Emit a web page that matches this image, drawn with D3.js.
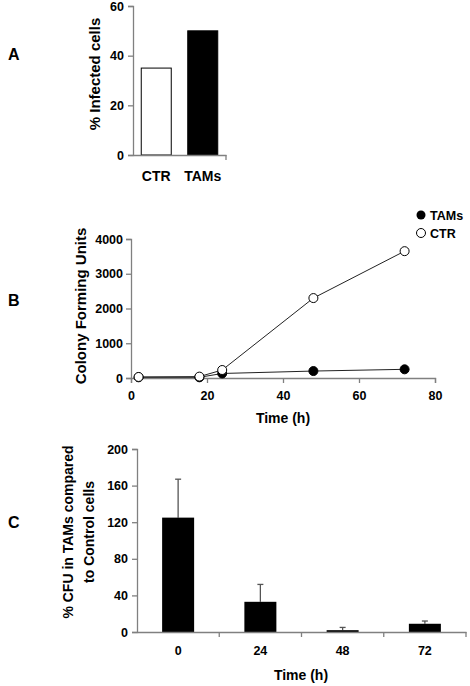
<!DOCTYPE html>
<html><head><meta charset="utf-8">
<script src="https://cdn.jsdelivr.net/npm/d3@7"></script>
<style>
html,body{margin:0;padding:0;background:#fff;}
text{font-family:"Liberation Sans",Arial,sans-serif;font-weight:bold;fill:#000;}
</style></head><body>
<svg id="c" width="470" height="686"></svg>
<script>
// Panel A
const catsA = ["CTR", "TAMs"];
const valsA = [35, 50];
const ticksA = [0, 20, 40, 60];
// Panel B
const timesTAMs = [2, 18, 24, 48, 72];
const cfuTAMs = [20, 20, 130, 200, 250];
const timesCTR = [2, 18, 24, 48, 72];
const cfuCTR = [30, 40, 230, 2300, 3650];
const ticksBx = [0, 20, 40, 60, 80];
const ticksBy = [0, 1000, 2000, 3000, 4000];
// Panel C
const catsC = ["0", "24", "48", "72"];
const valsC = [125, 33, 2, 9];
const errC = [42, 19, 3, 3];
const ticksCy = [0, 40, 80, 120, 160, 200];

const svg = d3.select("#c");
const axisCol = "#808080";
const tickFont = "12.5px";
function styleAxis(g){
  g.select(".domain").attr("stroke", axisCol).attr("stroke-width", 1.3);
  g.selectAll(".tick line").attr("stroke", axisCol).attr("stroke-width", 1.3);
  g.selectAll(".tick text").style("font-size", tickFont).style("font-weight", "bold").attr("fill", "#000")
    .style("font-family", '"Liberation Sans", Arial, sans-serif');
}
function letter(t, x, y){
  svg.append("text").attr("x", x).attr("y", y).style("font-size", "16px").text(t);
}

// ---------- Panel A ----------
{
  const x = d3.scaleBand().domain(catsA).range([133, 226]).padding(0);
  const y = d3.scaleLinear().domain([0, 60]).range([155, 6]);
  const g = svg.append("g");
  const bw = 30;
  g.selectAll("rect").data(catsA).join("rect")
    .attr("x", d => x(d) + x.bandwidth()/2 - bw/2)
    .attr("y", (d,i) => y(valsA[i]))
    .attr("width", bw)
    .attr("height", (d,i) => y(0) - y(valsA[i]))
    .attr("fill", (d,i) => i === 0 ? "#fff" : "#000")
    .attr("stroke", "#000").attr("stroke-width", 1);
  const ya = g.append("g").attr("transform", "translate(133,0)")
    .call(d3.axisLeft(y).tickValues(ticksA).tickSize(5).tickPadding(4));
  styleAxis(ya);
  const xa = g.append("g").attr("transform", "translate(0,155)")
    .call(d3.axisBottom(x).tickSize(0).tickPadding(16));
  styleAxis(xa);
  xa.selectAll(".tick text").style("font-size", "14px");
  g.append("line").attr("x1", 226).attr("x2", 226).attr("y1", 155).attr("y2", 160).attr("stroke", axisCol).attr("stroke-width", 1.3);
  g.append("text").attr("transform", "translate(100,74) rotate(-90)").attr("text-anchor", "middle")
    .style("font-size", "15px").text("% Infected cells");
  letter("A", 8, 60);
}

// ---------- Panel B ----------
{
  const x = d3.scaleLinear().domain([0, 80]).range([131, 435]);
  const y = d3.scaleLinear().domain([0, 4000]).range([378, 239]);
  const g = svg.append("g");
  const ya = g.append("g").attr("transform", "translate(131,0)")
    .call(d3.axisLeft(y).tickValues(ticksBy).tickFormat(d3.format("d")).tickSize(5).tickPadding(3));
  styleAxis(ya);
  const xa = g.append("g").attr("transform", "translate(0,378)")
    .call(d3.axisBottom(x).tickValues(ticksBx).tickSize(5).tickPadding(8));
  styleAxis(xa);
  const line = d3.line().x(d => x(d[0])).y(d => y(d[1]));
  const dT = timesTAMs.map((t,i) => [t, cfuTAMs[i]]);
  const dC = timesCTR.map((t,i) => [t, cfuCTR[i]]);
  g.append("path").datum(dT).attr("d", line).attr("fill", "none").attr("stroke", "#222").attr("stroke-width", 1);
  g.append("path").datum(dC).attr("d", line).attr("fill", "none").attr("stroke", "#222").attr("stroke-width", 1);
  g.selectAll(".pt").data(dT).join("circle").attr("class", "pt")
    .attr("cx", d => x(d[0])).attr("cy", d => y(d[1])).attr("r", 4.5).attr("fill", "#000").attr("stroke", "#000");
  g.selectAll(".pc").data(dC).join("circle").attr("class", "pc")
    .attr("cx", d => x(d[0])).attr("cy", d => y(d[1])).attr("r", 4.5).attr("fill", "#fff").attr("stroke", "#000").attr("stroke-width", 1);
  // legend
  g.append("circle").attr("cx", 421).attr("cy", 215).attr("r", 4.5).attr("fill", "#000");
  g.append("text").attr("x", 430).attr("y", 219.5).style("font-size", "12.5px").text("TAMs");
  g.append("circle").attr("cx", 421).attr("cy", 233).attr("r", 4.5).attr("fill", "#fff").attr("stroke", "#000");
  g.append("text").attr("x", 430).attr("y", 237.5).style("font-size", "12.5px").text("CTR");
  g.append("text").attr("transform", "translate(86,306) rotate(-90)").attr("text-anchor", "middle")
    .style("font-size", "15px").text("Colony Forming Units");
  g.append("text").attr("x", 283).attr("y", 423).attr("text-anchor", "middle").style("font-size", "14px").text("Time (h)");
  letter("B", 8, 306);
}

// ---------- Panel C ----------
{
  const x = d3.scaleBand().domain(catsC).range([137, 466]).padding(0);
  const y = d3.scaleLinear().domain([0, 200]).range([632, 449]);
  const g = svg.append("g");
  const bw = 32;
  // error bars
  g.selectAll(".eb").data(catsC).join("line").attr("class", "eb")
    .attr("x1", d => x(d) + x.bandwidth()/2).attr("x2", d => x(d) + x.bandwidth()/2)
    .attr("y1", (d,i) => y(valsC[i])).attr("y2", (d,i) => y(valsC[i] + errC[i]))
    .attr("stroke", "#555").attr("stroke-width", 1.3);
  g.selectAll(".ec").data(catsC).join("line").attr("class", "ec")
    .attr("x1", d => x(d) + x.bandwidth()/2 - 3).attr("x2", d => x(d) + x.bandwidth()/2 + 3)
    .attr("y1", (d,i) => y(valsC[i] + errC[i])).attr("y2", (d,i) => y(valsC[i] + errC[i]))
    .attr("stroke", "#555").attr("stroke-width", 1.3);
  g.selectAll("rect").data(catsC).join("rect")
    .attr("x", d => x(d) + x.bandwidth()/2 - bw/2)
    .attr("y", (d,i) => y(valsC[i]))
    .attr("width", bw)
    .attr("height", (d,i) => y(0) - y(valsC[i]))
    .attr("fill", "#000");
  const ya = g.append("g").attr("transform", "translate(137,0)")
    .call(d3.axisLeft(y).tickValues(ticksCy).tickSize(5).tickPadding(4));
  styleAxis(ya);
  const xa = g.append("g").attr("transform", "translate(0,632)")
    .call(d3.axisBottom(x).tickSize(0).tickPadding(14));
  styleAxis(xa);
  const bounds = catsC.map(d => x(d) + x.bandwidth());
  g.selectAll(".bt").data(bounds).join("line").attr("class", "bt")
    .attr("x1", d => d).attr("x2", d => d).attr("y1", 632).attr("y2", 637)
    .attr("stroke", axisCol).attr("stroke-width", 1.3);
  const t = g.append("text").attr("transform", "translate(0,532) rotate(-90)").attr("text-anchor", "middle").style("font-size", "14px");
  t.append("tspan").attr("x", 0).attr("y", 73).text("% CFU in TAMs compared");
  t.append("tspan").attr("x", 0).attr("y", 94).text("to Control cells");
  g.append("text").attr("x", 301).attr("y", 680).attr("text-anchor", "middle").style("font-size", "14px").text("Time (h)");
  letter("C", 8, 528);
}
</script></body></html>
